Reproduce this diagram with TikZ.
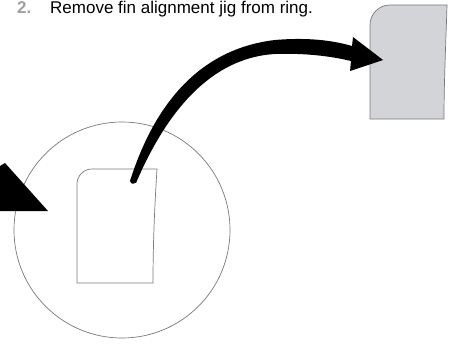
\documentclass[tikz,border=0pt]{standalone}
\usepackage{fontspec}
\setmainfont{Liberation Sans}
\usepackage{xcolor}
\definecolor{jigLine}{HTML}{7A7A7A}
\definecolor{jigFill}{HTML}{D2D4D7}
\definecolor{stepNum}{HTML}{A0A0A0}

\begin{document}
\begin{tikzpicture}[x=1pt,y=-1pt]
  \useasboundingbox (0,0) rectangle (449,345);
  \filldraw[fill=white, draw=none] (0,0) rectangle (449,345);
  \node[anchor=base west, inner sep=0pt, text=stepNum, font=\fontsize{17}{17}\selectfont\bfseries] (num) at (17,14) {2.};
  \node[anchor=base west, inner sep=0pt, font=\fontsize{17}{17}\selectfont] (title) at (50,14) {Remove fin alignment jig from ring.};
  % ring
  \draw[jigLine, line width=0.7pt] (122,230) circle (108);
  % jig on the ring
  \filldraw[fill=white, draw=jigLine, line width=0.7pt] (77,283) -- (77,184) arc[start angle=180, end angle=270, radius=15] -- (157,169) .. controls (155,200) and (153,240) .. (153,283) -- cycle;
  \coordinate (jigIn) at (133,181);
  % jig removed
  \filldraw[fill=jigFill, draw=jigLine, line width=0.7pt] (370,119) -- (370,25) arc[start angle=180, end angle=270, radius=20] -- (447,5) .. controls (446,40) and (444,80) .. (444,119) -- cycle;
  \coordinate (jigOut) at (383,60);
  % lift arrow
  \fill[black] (130,181) .. controls (150,118) and (190,50) .. (275,40) .. controls (310,37) and (335,41) .. (352,46) -- (353,37) -- (jigOut) -- (350,71) -- (351,61) .. controls (330,56) and (305,53) .. (275,54) .. controls (205,58) and (162,122) .. (136,183) -- cycle;
  \fill[black] (jigIn) circle (2.8);
  % arrow from the left
  \fill[black] (0,166) -- (5,163) -- (48,211) -- (0,211) -- cycle;
\end{tikzpicture}
\end{document}
